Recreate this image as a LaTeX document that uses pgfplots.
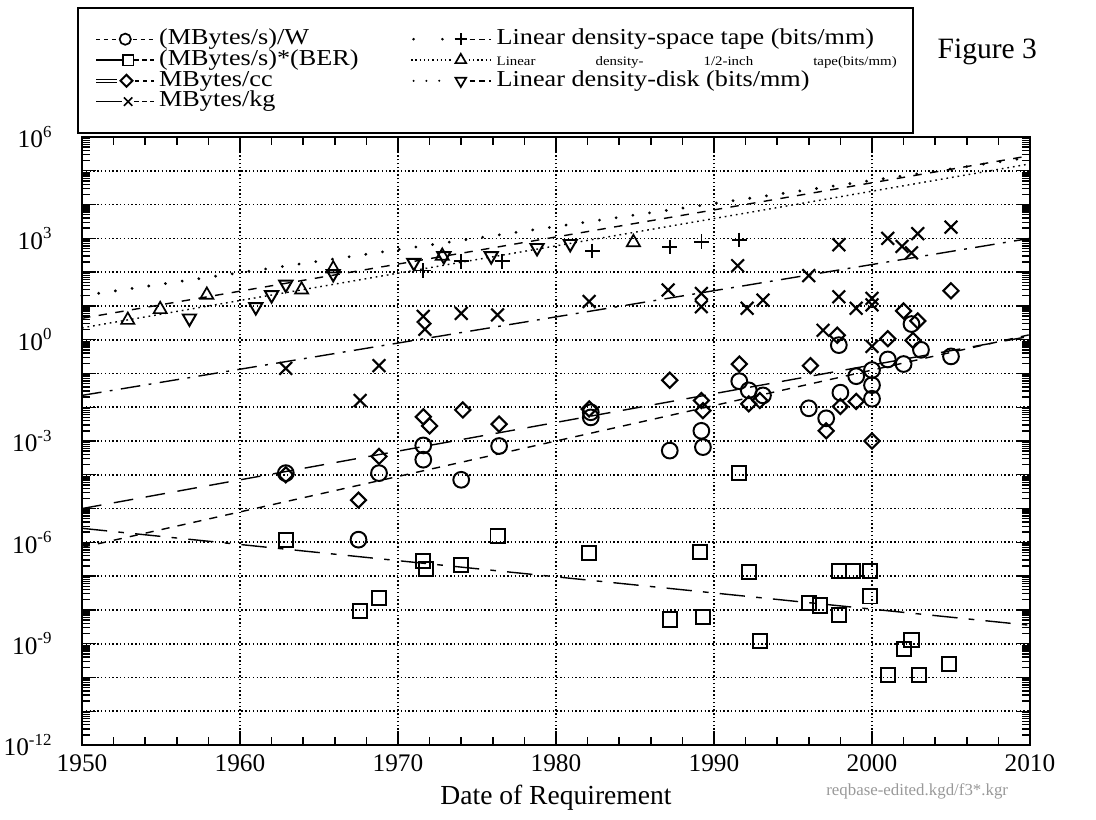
\documentclass[border=0pt]{standalone}
\usepackage{fontspec}
\setmainfont{Liberation Serif}
\newfontfamily\legfont[FakeStretch=1.15]{Liberation Serif}
\usepackage{pgfplots}
\pgfplotsset{compat=1.18}

\begin{document}
\begin{tikzpicture}
\useasboundingbox (-10.25mm,-9.25mm) rectangle (126.75mm,93.125mm);
\begin{axis}[
  at={(0,0)}, anchor=south west, scale only axis,
  width=118.5mm, height=76mm,
  xmin=1950, xmax=2010,
  ymode=log, ymin=1e-12, ymax=1e6,
  clip=false,
  axis line style={line width=0.7pt},
  xtick={1950,1960,1970,1980,1990,2000,2010},
  minor x tick num=4,
  ytick={1e-12,1e-11,1e-10,1e-9,1e-8,1e-7,1e-6,1e-5,1e-4,1e-3,1e-2,1e-1,1,1e1,1e2,1e3,1e4,1e5,1e6},
  yticklabels={10\textsuperscript{-12},,,10\textsuperscript{-9},,,10\textsuperscript{-6},,,10\textsuperscript{-3},,,10\textsuperscript{0},,,10\textsuperscript{3},,,10\textsuperscript{6}},
  tick style={black, line width=0.5pt},
  major tick length=1.8mm, minor tick length=1mm,
  grid=major,
  major grid style={black, line width=0.6pt, dash pattern=on 0.5pt off 0.85pt},
  ticklabel style={font=\fontsize{9}{10}\selectfont},
  xticklabel style={/pgf/number format/1000 sep={}, /pgf/number format/assume math mode=true},
  yticklabel style={xshift=-2.4mm},
  xlabel={Date of Requirement},
  xlabel style={font=\fontsize{9.8}{11}\selectfont, at={(axis description cs:0.5,-0.087)}, anchor=center},
  legend columns=2,
  legend cell align=left,
  legend style={
    at={(-0.0053,1.2138)}, anchor=north west,
    draw=black, line width=0.7pt,
    inner xsep=2mm, inner ysep=2.6mm,
    font={\legfont\fontsize{8.1}{8.1}\selectfont},
    nodes={inner sep=0pt, text height=5.6pt, text depth=1.8pt},
    row sep=0pt,
    /tikz/every odd column/.append style={column sep=0.6mm},
    /tikz/every even column/.append style={column sep=6.5mm},
  },
]

% fitted trend lines
\addplot[forget plot, black, line width=0.5pt, dash pattern=on 2.9pt off 2.9pt] coordinates {(1950,7.1e-7) (2010,1.41)};
\addplot[forget plot, black, line width=0.5pt, dash pattern=on 7pt off 4.5pt] coordinates {(1950,1e-5) (2010,1.26)};
\addplot[forget plot, black, line width=0.5pt, dash pattern=on 7pt off 3pt on 1pt off 3pt] coordinates {(1950,2.24e-2) (2010,1000)};
\addplot[forget plot, black, line width=0.5pt, dash pattern=on 9pt off 4pt on 2pt off 4pt] coordinates {(1950,2.6e-6) (2010,3.5e-9)};
\addplot[forget plot, black, line width=1.1pt, line cap=round, dash pattern=on 0pt off 6pt] coordinates {(1950,20) (2010,2.5e5)};
\addplot[forget plot, black, line width=0.5pt, dash pattern=on 0.6pt off 1.4pt] coordinates {(1950,2.24) (2010,1.6e5)};
\addplot[forget plot, black, line width=0.5pt, dash pattern=on 3pt off 3pt] coordinates {(1950,4.3) (2010,2.8e5)};

% (MBytes/s)/W
\addplot[forget plot, only marks, mark=o, mark size=2.8pt, mark options={black, line width=0.7pt}] coordinates {
(1962.9,1.12e-4) (1967.5,1.2e-6) (1968.8,1.12e-4) (1971.6,7.4e-4) (1971.6,2.8e-4)
(1974.0,7.1e-5) (1976.4,7.1e-4) (1982.2,7.1e-3) (1982.2,5.0e-3) (1987.2,5.2e-4)
(1989.2,2.0e-3) (1989.3,6.6e-4) (1991.6,5.9e-2) (1992.2,3.16e-2) (1993.1,2.24e-2)
(1996.0,9.3e-3) (1997.1,4.7e-3) (1997.9,0.69) (1998.0,2.7e-2) (1999.0,8.3e-2)
(2000.0,0.126) (2000.0,4.5e-2) (2000.0,1.78e-2) (2001.0,0.26) (2002.0,0.19)
(2002.5,2.9) (2003.1,0.5) (2005.0,0.32)};

% (MBytes/s)*(BER)
\addplot[forget plot, only marks, mark=square, mark size=2.5pt, mark options={black, line width=0.7pt}] coordinates {
(1962.9,1.2e-6) (1967.6,9.3e-9) (1968.8,2.2e-8) (1971.6,2.8e-7) (1971.8,1.66e-7)
(1974.0,2.1e-7) (1976.3,1.5e-6) (1982.1,4.9e-7) (1987.2,5.2e-9) (1989.1,5.1e-7)
(1989.3,6.2e-9) (1991.6,1.12e-4) (1992.2,1.35e-7) (1992.9,1.2e-9) (1996.0,1.58e-8)
(1996.7,1.35e-8) (1997.9,1.41e-7) (1997.9,7.1e-9) (1998.8,1.41e-7) (1999.9,1.41e-7)
(1999.9,2.5e-8) (2001.0,1.17e-10) (2002.0,7.1e-10) (2002.5,1.32e-9) (2003.0,1.17e-10)
(2004.9,2.5e-10)};

% MBytes/cc
\addplot[forget plot, only marks, mark=square, mark size=1.9pt, mark options={black, line width=0.75pt, rotate=45}] coordinates {
(1962.9,1.0e-4) (1967.5,1.78e-5) (1968.8,3.5e-4) (1971.6,5.2e-3) (1972.0,2.8e-3)
(1974.1,8.3e-3) (1976.4,3.16e-3) (1982.1,8.9e-3) (1987.2,6.3e-2) (1989.2,1.58e-2)
(1989.3,7.9e-3) (1991.6,0.19) (1992.2,1.26e-2) (1992.9,1.58e-2) (1996.1,0.17)
(1997.1,2.0e-3) (1997.8,1.35) (1998.0,1.05e-2) (1999.0,1.48e-2) (2000.0,1.0e-3)
(2001.0,1.07) (2002.0,7.1) (2002.6,0.95) (2002.9,3.6) (2005.0,28)};

% MBytes/kg
\addplot[forget plot, only marks, mark=x, mark size=3.2pt, mark options={black, line width=0.75pt}] coordinates {
(1962.9,0.141) (1967.6,1.58e-2) (1968.8,0.17) (1971.6,4.9) (1971.7,2.04)
(1974.0,6.0) (1976.3,5.4) (1982.1,13.5) (1987.1,29.5) (1989.2,23.4)
(1989.2,9.5) (1991.5,155) (1992.1,8.5) (1993.1,14.8) (1996.0,79)
(1996.9,1.9) (1997.9,646) (1997.9,18.6) (1999.0,8.5) (2000.0,16.6)
(2000.0,10.7) (2000.0,0.63) (2001.0,1000) (2001.9,575) (2002.5,372)
(2002.9,1380) (2005.0,2140)};

% Linear density-space tape
\addplot[forget plot, only marks, mark=+, mark size=2.6pt, mark options={black, line width=0.6pt}] coordinates {
(1971.6,112) (1974.0,209) (1976.6,209) (1982.3,427) (1987.2,550) (1989.2,794) (1991.6,891)};

% Linear density-1/2-inch tape
\addplot[forget plot, only marks, mark=triangle, mark size=2.7pt, mark options={black, line width=0.6pt}] coordinates {
(1952.9,3.8) (1954.95,7.9) (1957.9,21) (1963.9,30) (1965.9,126) (1972.8,300) (1984.9,760)};

% Linear density-disk
\addplot[forget plot, only marks, mark=triangle, mark size=2.7pt, mark options={black, line width=0.7pt, rotate=180}] coordinates {
(1956.8,4.3) (1961.0,9.3) (1962.0,21) (1962.9,43) (1965.9,89)
(1971.0,190) (1972.9,300) (1975.9,300) (1978.8,525) (1980.9,690)};

% legend
\addlegendimage{legend image code/.code={
  \draw[line width=0.5pt, dash pattern=on 1.5pt off 1.3pt] (0mm,0mm) -- (2.7mm,0mm);
  \draw[line width=0.5pt, dash pattern=on 1.5pt off 1.3pt] (4.6mm,0mm) -- (7.2mm,0mm);
  \draw[line width=0.6pt] plot[mark=o, mark size=2pt] coordinates {(3.65mm,0mm)};
}}
\addlegendentry{(MBytes/s)/W}
\addlegendimage{legend image code/.code={
  \draw[line width=1pt, line cap=round, dash pattern=on 0pt off 3.6mm] (0.3mm,0mm) -- (5mm,0mm);
  \draw[line width=0.5pt, dash pattern=on 2pt off 1.5pt] (7.3mm,0mm) -- (10mm,0mm);
  \draw[line width=0.6pt] plot[mark=+, mark size=2.2pt] coordinates {(6.2mm,0mm)};
}}
\addlegendentry{Linear density-space tape (bits/mm)}
\addlegendimage{legend image code/.code={
  \draw[line width=0.6pt] (0mm,0mm) -- (3.2mm,0mm);
  \draw[line width=0.5pt, dash pattern=on 1.5pt off 1.3pt] (4.8mm,0mm) -- (7.2mm,0mm);
  \draw[line width=0.6pt] plot[mark=square, mark size=1.9pt] coordinates {(4mm,0mm)};
}}
\addlegendentry{(MBytes/s)*(BER)}
\addlegendimage{legend image code/.code={
  \draw[line width=0.5pt, dash pattern=on 0.5pt off 1pt] (0mm,0mm) -- (5.2mm,0mm);
  \draw[line width=0.5pt, dash pattern=on 0.5pt off 1pt] (7.2mm,0mm) -- (10mm,0mm);
  \draw[line width=0.6pt] plot[mark=triangle, mark size=2.2pt] coordinates {(6.2mm,0mm)};
}}
\addlegendentry{\makebox[50mm][s]{\fontsize{4.6}{5}\selectfont Linear density- 1/2-inch tape(bits/mm)}}
\addlegendimage{legend image code/.code={
  \draw[line width=0.35pt, double, double distance=0.8pt] (0mm,0mm) -- (2.6mm,0mm);
  \draw[line width=0.5pt, dash pattern=on 1.5pt off 1.3pt] (4.9mm,0mm) -- (7.2mm,0mm);
  \draw[line width=0.7pt] plot[mark=square, mark size=1.5pt, mark options={rotate=45}] coordinates {(3.8mm,0mm)};
}}
\addlegendentry{MBytes/cc}
\addlegendimage{legend image code/.code={
  \draw[line width=0.8pt, line cap=round, dash pattern=on 0pt off 1.6mm] (0.3mm,0mm) -- (5mm,0mm);
  \draw[line width=0.5pt, dash pattern=on 2pt off 1.5pt] (7.3mm,0mm) -- (10mm,0mm);
  \draw[line width=0.6pt] plot[mark=triangle, mark size=2.2pt, mark options={rotate=180}] coordinates {(6.2mm,0mm)};
}}
\addlegendentry{Linear density-disk (bits/mm)}
\addlegendimage{legend image code/.code={
  \draw[line width=0.6pt] (0mm,0mm) -- (3.2mm,0mm);
  \draw[line width=0.5pt, dash pattern=on 1.5pt off 1.3pt] (4.8mm,0mm) -- (7.2mm,0mm);
  \draw[line width=0.6pt] plot[mark=x, mark size=2.1pt] coordinates {(4mm,0mm)};
}}
\addlegendentry{MBytes/kg}

\node[font=\fontsize{10.5}{12}\selectfont] at (rel axis cs:0.955,1.14) {Figure 3};
\node[font=\fontsize{6}{7}\selectfont, text=black!40] at (rel axis cs:0.881,-0.077) {reqbase-edited.kgd/f3*.kgr};
\end{axis}
\end{tikzpicture}
\end{document}
